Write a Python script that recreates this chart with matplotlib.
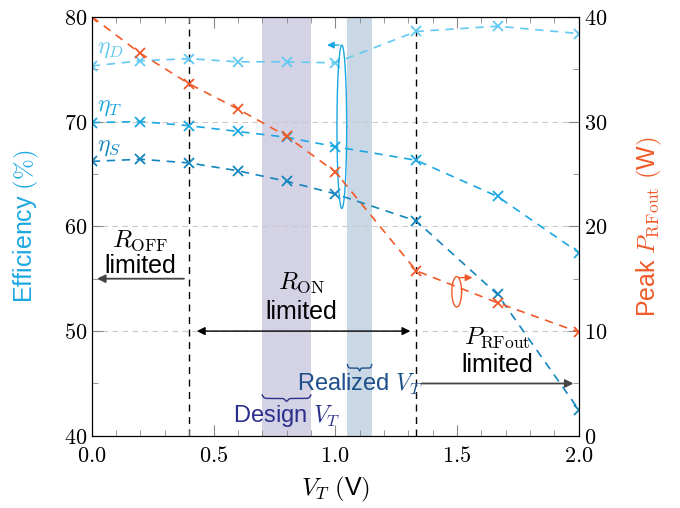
import numpy as np
import matplotlib
matplotlib.use("Agg")
import matplotlib.pyplot as plt
from matplotlib.ticker import MultipleLocator, FuncFormatter

plt.rcParams['font.family'] = ['Liberation Sans', 'DejaVu Sans']
plt.rcParams['mathtext.fontset'] = 'cm'

# donnees
vt = [0.0, 0.2, 0.4, 0.6, 0.8, 1.0, 4/3, 5/3, 2.0]
eta_d = [75.3, 75.8, 76.0, 75.7, 75.7, 75.6, 78.6, 79.1, 78.4]
eta_t = [69.9, 70.0, 69.6, 69.05, 68.5, 67.6, 66.3, 62.85, 57.5]
eta_s = [66.2, 66.4, 66.05, 65.3, 64.3, 63.1, 60.5, 53.5, 42.5]
p_rf = [40.0, 36.5, 33.6, 31.2, 28.6, 25.2, 15.75, 12.7, 9.9]

design_band = (0.70, 0.90)
real_band = (1.05, 1.15)
limits = [0.4, 4/3]

c_d = '#62c9f2'
c_t = '#1ba8e2'
c_s = '#1485bd'
c_p = '#f05a28'


#Accolade horizontale, pointe vers le bas
def curly(ax, x0, x1, y, h, color):
    t = np.linspace(0, 1, 201)
    half = np.minimum(t, 1 - t)
    yy = y + h * 0.55 * np.tanh(25 * half) + h * 0.45 * np.exp(-((t - 0.5) / 0.04) ** 2)
    ax.plot(x0 + t * (x1 - x0), 2 * y - yy, color=color, lw=1.0, clip_on=False)


#Ellipse dessinee point par point (coordonnees donnees)
def ellipse(ax, xc, yc, rx, ry, color):
    th = np.linspace(0, 2 * np.pi, 200)
    ax.plot(xc + rx * np.cos(th), yc + ry * np.sin(th), color=color, lw=1.0)


fig = plt.figure(figsize=(6.8, 5.08), dpi=100)
ax = fig.add_axes([0.135, 0.142, 0.716, 0.825])
ax2 = ax.twinx()

ax.axvspan(*design_band, color='#d4d3e6', lw=0, zorder=0)
ax.axvspan(*real_band, color='#c9d8e4', lw=0, zorder=0)
for v in limits:
    ax.axvline(v, color='black', ls=(0, (5, 4)), lw=1.0, zorder=1)
for g in [50, 60, 70]:
    ax.axhline(g, color='#c8c8c8', ls=(0, (5, 4)), lw=0.8, zorder=0.5)

kw = dict(ls=(0, (5, 4)), lw=1.2, marker='x', ms=7, mew=1.3)
ax.plot(vt, eta_d, color=c_d, **kw)
ax.plot(vt, eta_t, color=c_t, **kw)
ax.plot(vt, eta_s, color=c_s, **kw)
ax2.plot(vt, p_rf, color=c_p, **kw)

ax.set_xlim(0, 2)
ax.set_ylim(40, 80)
ax2.set_ylim(0, 40)

ax.xaxis.set_major_locator(MultipleLocator(0.5))
ax.xaxis.set_minor_locator(MultipleLocator(0.1))
ax.yaxis.set_major_locator(MultipleLocator(10))
ax.yaxis.set_minor_locator(MultipleLocator(5))
ax2.yaxis.set_major_locator(MultipleLocator(10))
ax2.yaxis.set_minor_locator(MultipleLocator(5))
ax.xaxis.set_major_formatter(FuncFormatter(lambda v, p: '$%.1f$' % v))
ax.yaxis.set_major_formatter(FuncFormatter(lambda v, p: '$%d$' % v))
ax2.yaxis.set_major_formatter(FuncFormatter(lambda v, p: '$%d$' % v))
for a in (ax, ax2):
    a.tick_params(which='both', direction='in', labelsize=16, color='#888888')
    a.tick_params(which='major', length=8)
    a.tick_params(which='minor', length=4)
ax.tick_params(axis='x', pad=7, top=True, which='both')
for s in ax2.spines.values():
    s.set_color('black')

ax.set_xlabel(r'$V_T$ $($V$)$', fontsize=18, labelpad=6)
ax.set_ylabel(r'Efficiency $(\%)$', fontsize=18, color=c_t, labelpad=16)
ax2.set_ylabel(r'Peak $P_{\rm RFout}$ $($W$)$', fontsize=18, color=c_p, labelpad=20)

# etiquettes des courbes
ax.text(0.02, 76.9, r'$\eta_D$', color=c_d, fontsize=17, va='center')
ax.text(0.02, 71.4, r'$\eta_T$', color=c_t, fontsize=17, va='center')
ax.text(0.02, 67.6, r'$\eta_S$', color=c_s, fontsize=17, va='center')

# zones limitees
ax.text(0.2, 58.6, r'$R_{\rm OFF}$', fontsize=18, ha='center', va='center')
ax.text(0.2, 56.2, 'limited', fontsize=18, ha='center', va='center')
ax.annotate('', xy=(0.01, 55.0), xytext=(0.39, 55.0),
            arrowprops=dict(arrowstyle='-|>', color='#444444', lw=1.3, mutation_scale=12))
ax.text(0.86, 54.6, r'$R_{\rm ON}$', fontsize=18, ha='center', va='center')
ax.text(0.86, 51.8, 'limited', fontsize=18, ha='center', va='center')
ax.annotate('', xy=(0.42, 50.0), xytext=(1.32, 50.0),
            arrowprops=dict(arrowstyle='<|-|>', color='black', lw=1.0, mutation_scale=12))
ax.text(1.667, 49.4, r'$P_{\rm RFout}$', fontsize=18, ha='center', va='center')
ax.text(1.667, 46.8, 'limited', fontsize=18, ha='center', va='center')
ax.annotate('', xy=(1.99, 45.0), xytext=(1.345, 45.0),
            arrowprops=dict(arrowstyle='-|>', color='#444444', lw=1.3, mutation_scale=12))

# V_T de conception / realise
ax.text(0.80, 41.9, r'Design $V_T$', fontsize=17, color='#2b2f8c', ha='center', va='center')
ax.text(1.10, 44.9, r'Realized $V_T$', fontsize=17, color='#1d4f8a', ha='center', va='center')
curly(ax, design_band[0], design_band[1], 43.9, 0.6, '#2b2f8c')
curly(ax, real_band[0], real_band[1], 46.8, 0.6, '#1d4f8a')

# ellipses indiquant l'axe de chaque courbe
ellipse(ax, 1.027, 69.5, 0.02, 7.8, c_t)
ax.annotate('', xy=(0.955, 77.3), xytext=(1.027, 77.3),
            arrowprops=dict(arrowstyle='-|>', color=c_t, lw=1.0, mutation_scale=10))
ellipse(ax, 1.499, 53.75, 0.02, 1.45, c_p)
ax.annotate('', xy=(1.575, 55.1), xytext=(1.499, 55.1),
            arrowprops=dict(arrowstyle='-|>', color=c_p, lw=1.0, mutation_scale=10))

fig.savefig('out.png', dpi=100)
